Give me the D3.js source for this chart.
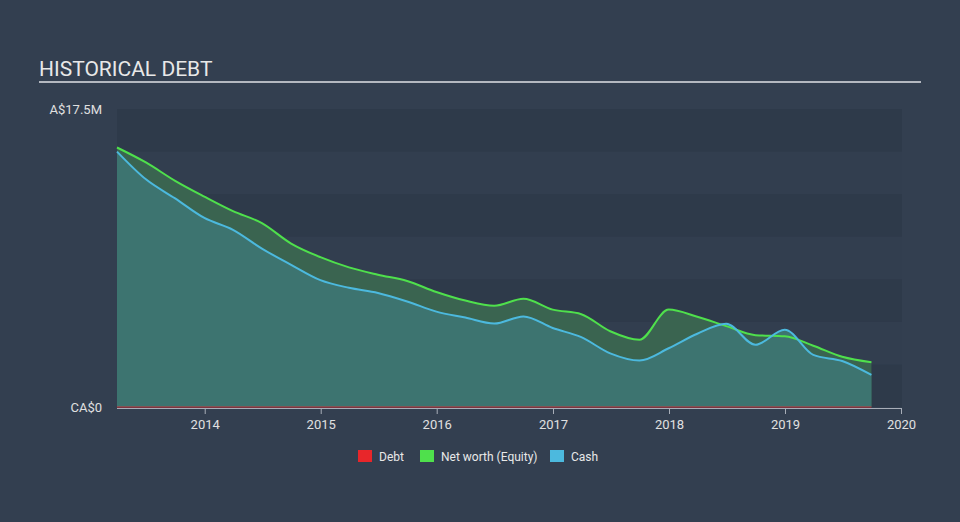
<!DOCTYPE html>
<html>
<head>
<meta charset="utf-8">
<script src="https://cdn.jsdelivr.net/npm/d3@7"></script>
<style>
  html, body { margin: 0; padding: 0; background: #333f50; }
  svg { display: block; font-family: Roboto, "Noto Sans", sans-serif; }
</style>
</head>
<body>
<svg id="chart" width="960" height="522"></svg>
<script>
const dates = ["2013-03-31","2013-06-30","2013-09-30","2013-12-31",
  "2014-03-31","2014-06-30","2014-09-30","2014-12-31",
  "2015-03-31","2015-06-30","2015-09-30","2015-12-31",
  "2016-03-31","2016-06-30","2016-09-30","2016-12-31",
  "2017-03-31","2017-06-30","2017-09-30","2017-12-31",
  "2018-03-31","2018-06-30","2018-09-30","2018-12-31",
  "2019-03-31","2019-06-30","2019-09-30"];
const equity = [15.24,14.36,13.28,12.35, 11.5,10.8,9.6,8.8, 8.2,7.77,7.4,6.75, 6.25,5.95,6.36,5.72, 5.45,4.45,3.95,5.72, 5.3,4.75,4.22,4.15, 3.6,2.95,2.63];
const cash   = [15.0,13.37,12.25,11.1, 10.4,9.3,8.35,7.45, 7.0,6.7,6.2,5.6, 5.25,4.9,5.32,4.64, 4.1,3.15,2.73,3.45, 4.3,4.89,3.65,4.54, 3.06,2.7,1.88];
const debt   = [0,0,0,0, 0,0,0,0, 0,0,0,0, 0,0,0,0, 0,0,0,0, 0,0,0,0, 0,0,0];
const xTickYears = [2014,2015,2016,2017,2018,2019,2020];
const yTickValues = [0, 17.5];
const yTickLabels = ["CA$0", "A$17.5M"];
const legendItems = [
  {label: "Debt", color: "#e8262a"},
  {label: "Net worth (Equity)", color: "#4fe04c"},
  {label: "Cash", color: "#4cb9de"}
];

(function () {
const svg = d3.select("#chart");
const parse = d3.timeParse("%Y-%m-%d");
const rows = dates.map((d, i) => ({date: parse(d), equity: equity[i], cash: cash[i], debt: debt[i]}));

const pL = 117, pR = 902, pT = 109, pB = 407;
const x = d3.scaleTime()
  .domain([parse("2013-03-31"), parse("2020-01-01")])
  .range([pL, 901]);
const y = d3.scaleLinear().domain([0, 17.5]).range([pB, pT]);

// Title
svg.append("text").attr("x", 39).attr("y", 76)
  .attr("fill", "#e8e8e8").attr("font-size", 21).text("HISTORICAL DEBT");
svg.append("rect").attr("x", 39).attr("y", 81).attr("width", 882).attr("height", 2)
  .attr("fill", "#b4b8c0");

// Bands
const bandEdges = d3.range(0, 17.5 + 0.001, 2.5);
for (let i = 0; i < bandEdges.length - 1; i++) {
  svg.append("rect")
    .attr("x", pL).attr("width", pR - pL)
    .attr("y", y(bandEdges[i + 1])).attr("height", y(bandEdges[i]) - y(bandEdges[i + 1]))
    .attr("fill", (bandEdges.length - 2 - i) % 2 === 0 ? "#2e3a4a" : "#323e4f");
}

// Areas
const curve = d3.curveMonotoneX;
const areaEq = d3.area().x(d => x(d.date)).y0(y(0)).y1(d => y(d.equity)).curve(curve);
const areaCash = d3.area().x(d => x(d.date)).y0(y(0)).y1(d => y(d.cash)).curve(curve);
svg.append("path").datum(rows).attr("d", areaEq).attr("fill", "#3a6450");
svg.append("path").datum(rows).attr("d", areaCash).attr("fill", "#3d7470");

// Lines
const lineOf = key => d3.line().x(d => x(d.date)).y(d => y(d[key])).curve(curve);
svg.append("path").datum(rows).attr("d", lineOf("equity"))
  .attr("fill", "none").attr("stroke", "#4fe04c").attr("stroke-width", 2);
svg.append("path").datum(rows).attr("d", lineOf("cash"))
  .attr("fill", "none").attr("stroke", "#4cb9de").attr("stroke-width", 2);
svg.append("path").datum(rows).attr("d", lineOf("debt"))
  .attr("fill", "none").attr("stroke", "#e8262a").attr("stroke-opacity", 0.55).attr("stroke-width", 1.5);

// X axis
const xAxis = d3.axisBottom(x)
  .tickValues(xTickYears.map(yr => new Date(yr, 0, 1)))
  .tickFormat(d3.timeFormat("%Y"))
  .tickSize(6).tickSizeOuter(0);
const gx = svg.append("g").attr("transform", `translate(0,${pB + 1})`).call(xAxis);
gx.select(".domain").attr("stroke", "#a8aeb8").attr("d", `M${pL},0.5H${pR}`);
gx.selectAll(".tick line").attr("stroke", "#a8aeb8");
gx.selectAll(".tick text").attr("fill", "#e0e0e0").attr("font-size", 13)
  .attr("font-family", "Roboto, sans-serif").attr("dy", "0.95em");

// Y axis labels
const gy = svg.append("g").attr("transform", `translate(${pL},0)`)
  .call(d3.axisLeft(y).tickValues(yTickValues).tickFormat((d, i) => yTickLabels[i]).tickSize(0).tickPadding(15));
gy.select(".domain").remove();
gy.selectAll(".tick text").attr("fill", "#e0e0e0").attr("font-size", 13)
  .attr("font-family", "Roboto, sans-serif");

// Legend
const legendX = [358, 420, 550];
legendItems.forEach((item, i) => {
  const g = svg.append("g").attr("transform", `translate(${legendX[i]},450)`);
  g.append("rect").attr("width", 14).attr("height", 12).attr("fill", item.color);
  g.append("text").attr("x", 21).attr("y", 10.5).attr("fill", "#e8e8e8")
    .attr("font-size", 12).text(item.label);
});
})();
</script>
</body>
</html>
